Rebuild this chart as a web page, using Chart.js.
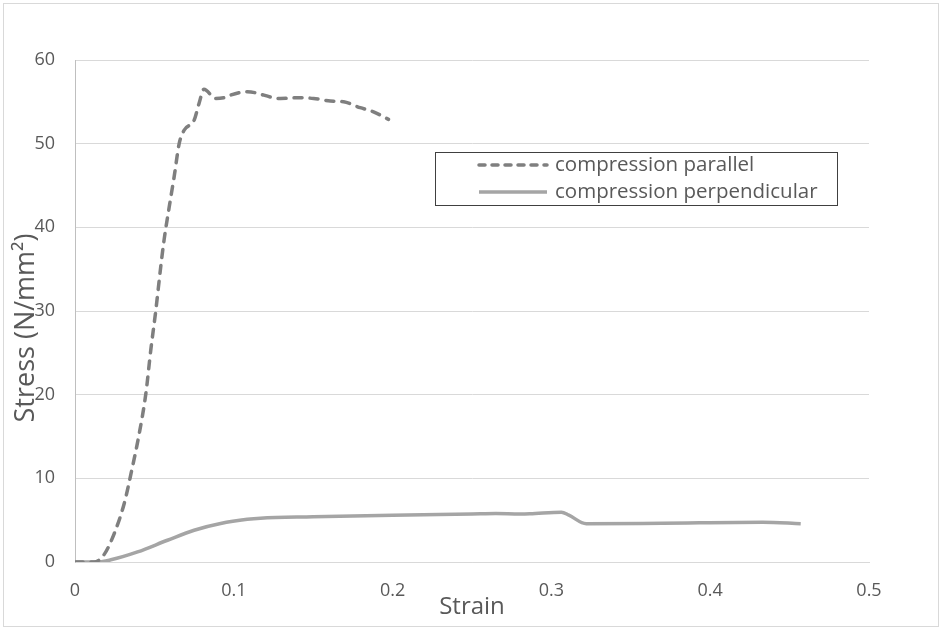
<!DOCTYPE html>
<html>
<head>
<meta charset="utf-8">
<script src="https://cdn.jsdelivr.net/npm/chart.js@4"></script>
<style>
    html, body { margin: 0; padding: 0; background: #fff; }
    #wrap { position: relative; width: 941px; height: 629px; }
</style>
</head>
<body>
<div id="wrap"><canvas id="chart" width="941" height="629"></canvas></div>
<script>
// --- Data ---
const parallelStrain = [0, 0.012, 0.018, 0.0247, 0.031, 0.0352, 0.0404, 0.0446, 0.0477, 0.0509, 0.054, 0.0561, 0.0593, 0.0624, 0.0656, 0.0687, 0.075, 0.0781, 0.0812, 0.0886, 0.0959, 0.098, 0.1085, 0.1294, 0.142, 0.1503, 0.1608, 0.1692, 0.1796, 0.188, 0.1974];
const parallelStress = [0, 0, 0.8, 3.4, 7.0, 10.5, 15.3, 20.1, 25.3, 30.1, 35.3, 38.5, 42.4, 46.0, 50.0, 51.6, 52.8, 54.8, 56.5, 55.4, 55.6, 55.8, 56.2, 55.4, 55.5, 55.4, 55.1, 55.0, 54.3, 53.8, 52.9];

const perpStrain = [0, 0.0143, 0.0226, 0.0394, 0.0582, 0.075, 0.0917, 0.1085, 0.1168, 0.15, 0.2, 0.25, 0.265, 0.28, 0.2864, 0.3063, 0.311, 0.322, 0.37, 0.433, 0.457];
const perpStress = [0, 0, 0.26, 1.2, 2.6, 3.8, 4.6, 5.1, 5.24, 5.4, 5.6, 5.75, 5.8, 5.75, 5.77, 5.96, 5.6, 4.57, 4.64, 4.76, 4.57];

const seriesLabels = ['compression parallel', 'compression perpendicular'];
const xTitle = 'Strain';
const yTitle = 'Stress (N/mm²)';

const FONT = 'Open Sans';
const TEXT = '#595959';

const toPoints = (xs, ys) => xs.map((x, i) => ({ x, y: ys[i] }));

// --- Frame, y title and legend box drawn on the canvas ---
const framePlugin = {
    id: 'frame',
    beforeDraw(chart) {
        const ctx = chart.ctx;
        ctx.save();
        ctx.fillStyle = '#fff';
        ctx.fillRect(0, 0, chart.width, chart.height);
        ctx.strokeStyle = '#d9d9d9';
        ctx.lineWidth = 1;
        ctx.strokeRect(3.5, 3.5, 935, 623);
        ctx.restore();
    },
    afterDraw(chart) {
        const ctx = chart.ctx;
        ctx.save();

        // y axis title (sits a little below the plot centre, over the tick labels)
        ctx.translate(26, 328);
        ctx.rotate(-Math.PI / 2);
        ctx.fillStyle = TEXT;
        ctx.font = `27px "${FONT}"`;
        ctx.textAlign = 'center';
        ctx.textBaseline = 'middle';
        ctx.fillText(yTitle, 0, 0);
        ctx.setTransform(1, 0, 0, 1, 0, 0);

        // legend
        ctx.strokeStyle = '#404040';
        ctx.lineWidth = 1;
        ctx.strokeRect(435.5, 152.5, 402, 53);

        chart.data.datasets.forEach((ds, i) => {
            const y = 165 + i * 27;
            ctx.strokeStyle = ds.borderColor;
            ctx.lineWidth = ds.borderWidth;
            ctx.lineCap = ds.borderCapStyle || 'butt';
            ctx.setLineDash(ds.legendDash || []);
            ctx.beginPath();
            ctx.moveTo(479, y);
            ctx.lineTo(547, y);
            ctx.stroke();
            ctx.setLineDash([]);

            ctx.fillStyle = TEXT;
            ctx.font = `20.5px "${FONT}"`;
            ctx.textAlign = 'left';
            ctx.textBaseline = 'middle';
            ctx.fillText(ds.label, 555, y);
        });
        ctx.restore();
    }
};

new Chart(document.getElementById('chart'), {
    type: 'scatter',
    data: {
        datasets: [
            {
                label: seriesLabels[0],
                data: toPoints(parallelStrain, parallelStress),
                showLine: true,
                borderColor: '#7f7f7f',
                borderWidth: 3.5,
                borderDash: [8, 8],
                legendDash: [6, 7],
                borderCapStyle: 'round',
                pointRadius: 0,
                cubicInterpolationMode: 'monotone'
            },
            {
                label: seriesLabels[1],
                data: toPoints(perpStrain, perpStress),
                showLine: true,
                borderColor: '#a5a5a5',
                borderWidth: 3.5,
                pointRadius: 0,
                cubicInterpolationMode: 'monotone'
            }
        ]
    },
    options: {
        responsive: false,
        animation: false,
        layout: { padding: { top: 60, right: 72, left: 10, bottom: 7 } },
        plugins: {
            legend: { display: false },
            tooltip: { enabled: false }
        },
        scales: {
            x: {
                type: 'linear',
                min: 0,
                max: 0.5,
                ticks: {
                    stepSize: 0.1,
                    padding: 18,
                    color: TEXT,
                    font: { family: FONT, size: 18 },
                    callback: v => String(+v.toFixed(1))
                },
                grid: { display: false, drawTicks: false },
                border: { display: true, color: '#d9d9d9', width: 1 },
                title: {
                    display: true,
                    text: xTitle,
                    color: TEXT,
                    font: { family: FONT, size: 24 },
                    padding: 0
                },
                afterFit: s => { s.height = 629 - 7 - 562; }
            },
            y: {
                min: 0,
                max: 60,
                ticks: {
                    stepSize: 10,
                    padding: 20,
                    color: TEXT,
                    font: { family: FONT, size: 18 }
                },
                grid: { color: '#d9d9d9', drawTicks: false },
                border: { display: true, color: '#bfbfbf', width: 1 },
                afterFit: s => { s.width = 75 - 10; }
            }
        }
    },
    plugins: [framePlugin]
});
</script>
</body>
</html>
